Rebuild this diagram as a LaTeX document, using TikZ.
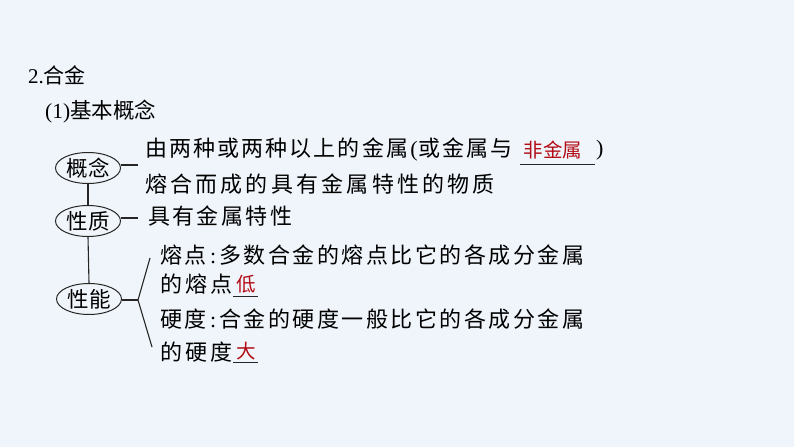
\documentclass[tikz,border=0pt]{standalone}
\usepackage{fontspec}
\setmainfont{Liberation Serif}
\newfontfamily\cjk{Noto Sans CJK SC}
\usetikzlibrary{shapes.geometric}
\definecolor{bgcol}{RGB}{240,245,251}
\definecolor{ansred}{RGB}{178,12,20}
\newlength\lsk
\setlength\lsk{2.4bp}
\def\lsloop#1{\ifx#1\relax\else#1\kern\lsk\expandafter\lsloop\fi}
\newcommand\lsp[2]{\setlength\lsk{#1bp}\lsloop#2\relax}
\tikzset{
  conn/.style={draw=black!85, line width=1.1bp},
  ell/.style={ellipse, draw=black!85, line width=1bp, inner sep=0pt,
    minimum width=65bp, minimum height=31bp,
    font=\cjk\fontsize{21.5bp}{24bp}\selectfont},
  txt/.style={anchor=west, inner sep=0pt, font=\cjk\fontsize{22bp}{26bp}\selectfont},
  ans/.style={inner sep=0pt, text=ansred, font=\cjk\fontsize{19.5bp}{22bp}\selectfont},
  uline/.style={draw=black!85, line width=1bp}
}
\begin{document}
\begin{tikzpicture}[x=1bp,y=-1bp]
\fill[bgcol] (0,0) rectangle (794,447);
\useasboundingbox (0,0) rectangle (794,447);
% headings
\node[anchor=west, inner sep=0pt, font=\fontsize{21bp}{24bp}\selectfont] (h1) at (28,75) {2.{\cjk 合金}};
\node[anchor=west, inner sep=0pt, font=\fontsize{21.5bp}{24bp}\selectfont] (h2) at (45,112) {(1){\cjk 基本概念}};
% ellipses
\node[ell] (gn) at (88,168) {概念};
\node[ell] (xz) at (88,221) {性质};
\node[ell] (xn) at (89,299) {性能};
\draw[conn] (gn.south) -- (xz.north);
\draw[conn] (xz.south) -- (xn.north);
% connectors
\coordinate (c1) at (138,165);
\coordinate (c2) at (138,218);
\coordinate (b0) at (138,300);
\coordinate (bt) at (150,258);
\coordinate (bb) at (152,347);
\draw[conn] (c1 -| gn.east) -- (c1);
\draw[conn] (c2 -| xz.east) -- (c2);
\draw[conn] (b0 -| xn.east) -- (b0);
\draw[conn] (bt) -- (b0) -- (bb);
% concept text
\node[txt] (t1) at (145,150) {\lsp{2.1}{由两种或两种以上的金属}{\rmfamily(}\kern1bp\lsp{2.1}{或金属与}};
\node[ans] (r1) at (553,150) {非金属};
\draw[uline] (520,165) -- (595,165);
\node[txt, font=\rmfamily\fontsize{22bp}{26bp}\selectfont] (p1) at (596,150) {)};
\node[txt] (t2) at (145,184) {\lsp{3.2}{熔合而成的具有金属特性的物质}};
% property
\node[txt] (t3) at (148,216) {\lsp{2.4}{具有金属特性}};
% performance
\node[txt] (t4) at (160,255) {\lsp{2.5}{熔点}\kern1bp{\rmfamily:}\kern3bp\lsp{2.5}{多数合金的熔点比它的各成分金属}};
\node[txt] (t5) at (160,284) {\lsp{3}{的熔点}};
\node[ans] (r2) at (246,284) {低};
\draw[uline] (233,297) -- (258,297);
\node[txt] (t6) at (160,319) {\lsp{2.5}{硬度}\kern1bp{\rmfamily:}\kern3bp\lsp{2.5}{合金的硬度一般比它的各成分金属}};
\node[txt] (t7) at (160,352) {\lsp{3}{的硬度}};
\node[ans] (r3) at (246,351) {大};
\draw[uline] (233,362) -- (258,362);
\end{tikzpicture}
\end{document}
